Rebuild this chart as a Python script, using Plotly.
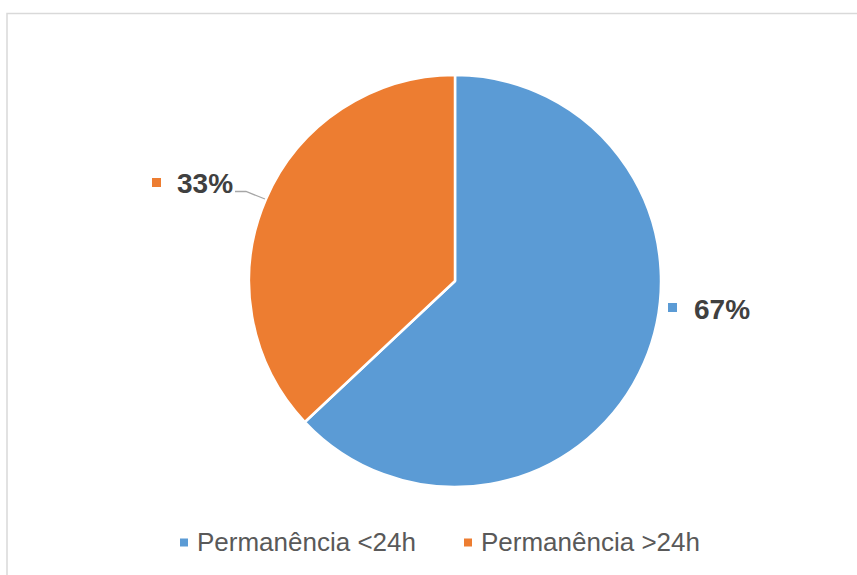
import plotly.graph_objects as go

# Data
categories = ["Permanência <24h", "Permanência >24h"]
values = [63, 37]            # slice sizes as drawn
label_text = ["67%", "33%"]  # data labels as printed
colors = ["#5B9BD5", "#ED7D31"]

W, H = 857, 575

def px(x):
    return x / W

def py(y):
    return 1 - y / H

fig = go.Figure()
fig.add_trace(go.Pie(
    labels=categories,
    values=values,
    marker=dict(colors=colors, line=dict(color="white", width=2.5)),
    sort=False,
    direction="clockwise",
    rotation=0,
    textinfo="none",
    hoverinfo="label+percent",
    showlegend=False,
    domain=dict(x=[px(249), px(661)], y=[py(487), py(75)]),
))

shapes = [
    # chart border
    dict(type="rect", xref="paper", yref="paper",
         x0=px(7), x1=px(870), y0=py(590), y1=py(13.5),
         line=dict(color="#D9D9D9", width=1.5), fillcolor="rgba(0,0,0,0)", layer="below"),
    # data label markers
    dict(type="rect", xref="paper", yref="paper",
         x0=px(668), x1=px(677), y0=py(312), y1=py(303),
         line=dict(width=0), fillcolor=colors[0]),
    dict(type="rect", xref="paper", yref="paper",
         x0=px(152), x1=px(161), y0=py(187), y1=py(178),
         line=dict(width=0), fillcolor=colors[1]),
    # leader line for 33%
    dict(type="path", xref="paper", yref="paper",
         path=f"M {px(235)},{py(191.5)} L {px(246)},{py(191.5)} L {px(265)},{py(199)}",
         line=dict(color="#A6A6A6", width=1.3)),
    # legend markers
    dict(type="rect", xref="paper", yref="paper",
         x0=px(180), x1=px(188), y0=py(546.5), y1=py(538.5),
         line=dict(width=0), fillcolor=colors[0]),
    dict(type="rect", xref="paper", yref="paper",
         x0=px(464), x1=px(472), y0=py(546.5), y1=py(538.5),
         line=dict(width=0), fillcolor=colors[1]),
]

label_font = dict(family="Liberation Sans, Arial, sans-serif", size=28, color="#404040")
legend_font = dict(family="Liberation Sans, Arial, sans-serif", size=26, color="#595959")

annotations = [
    dict(x=px(692), y=py(309), xref="paper", yref="paper", text=f"<b>{label_text[0]}</b>",
         showarrow=False, xanchor="left", yanchor="middle", font=label_font),
    dict(x=px(175), y=py(183), xref="paper", yref="paper", text=f"<b>{label_text[1]}</b>",
         showarrow=False, xanchor="left", yanchor="middle", font=label_font),
    dict(x=px(195), y=py(542), xref="paper", yref="paper", text=categories[0],
         showarrow=False, xanchor="left", yanchor="middle", font=legend_font),
    dict(x=px(479), y=py(542), xref="paper", yref="paper", text=categories[1],
         showarrow=False, xanchor="left", yanchor="middle", font=legend_font),
]

fig.update_layout(
    width=W, height=H,
    margin=dict(l=0, r=0, t=0, b=0),
    paper_bgcolor="white",
    plot_bgcolor="white",
    shapes=shapes,
    annotations=annotations,
)

fig.write_html(
    "out.html",
    config={"displayModeBar": False},
    post_script="document.body.style.margin='0';document.body.style.overflow='hidden';",
)
